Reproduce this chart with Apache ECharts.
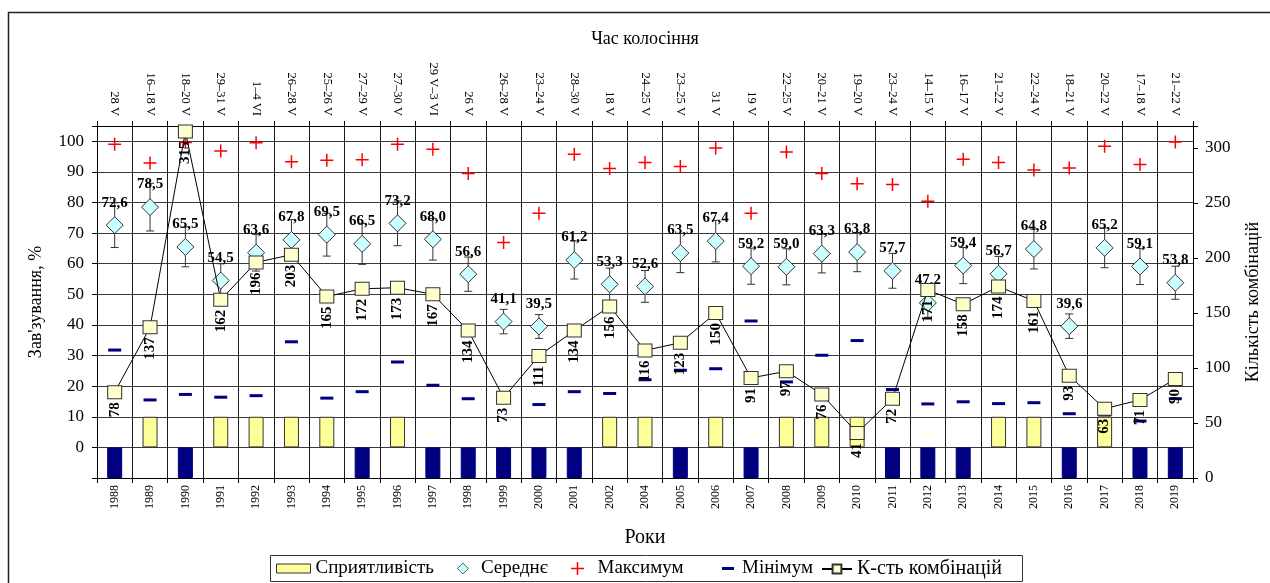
<!DOCTYPE html>
<html>
<head>
<meta charset="utf-8">
<script src="https://cdn.jsdelivr.net/npm/echarts@6/dist/echarts.min.js"></script>
<style>
html,body{margin:0;padding:0;background:#fff;}
#chart{width:1270px;height:583px;}
</style>
</head>
<body>
<div id="chart"></div>
<script>
const years = ['1988','1989','1990','1991','1992','1993','1994','1995','1996','1997','1998','1999','2000','2001','2002','2004','2005','2006','2007','2008','2009','2010','2011','2012','2013','2014','2015','2016','2017','2018','2019'];
const headingDates = ['28 V','16–18 V','18–20 V','29–31 V','1–4 VI','26–28 V','25–26 V','27–29 V','27–30 V','29 V–3 VI','26 V','26–28 V','23–24 V','28–30 V','18 V','24–25 V','23–25 V','31 V','19 V','22–25 V','20–21 V','19–20 V','23–24 V','14–15 V','16–17 V','21–22 V','22–24 V','18–21 V','20–22 V','17–18 V','21–22 V'];
const favorability = [-10,10,-10,10,10,10,10,-10,10,-10,-10,-10,-10,-10,10,10,-10,10,-10,10,10,10,-10,-10,-10,10,10,-10,10,-10,-10];
const meanValues = [72.6,78.5,65.5,54.5,63.6,67.8,69.5,66.5,73.2,68.0,56.6,41.1,39.5,61.2,53.3,52.6,63.5,67.4,59.2,59.0,63.3,63.8,57.7,47.2,59.4,56.7,64.8,39.6,65.2,59.1,53.8];
const meanErrors = [7.3,7.8,6.5,5.5,6.0,6.6,7.0,6.7,7.3,6.8,5.6,4.0,3.9,6.2,5.3,5.2,6.4,6.8,5.9,5.9,6.3,6.4,5.7,4.7,5.9,5.7,6.5,4.0,6.5,5.9,5.4];
const maxValues = [99.0,92.9,99.6,96.8,99.5,93.3,93.8,94.0,99.0,97.4,89.5,66.9,76.5,95.8,91.1,93.1,91.8,97.8,76.5,96.5,89.5,86.1,85.9,80.4,94.1,93.1,90.6,91.3,98.4,92.4,99.8];
const minValues = [31.8,15.5,17.3,16.4,16.9,34.5,16.1,18.2,27.9,20.3,15.9,16.5,14.0,18.2,17.6,22.1,25.2,25.7,41.3,21.4,30.1,34.9,18.9,14.2,14.9,14.3,14.6,11.0,10.6,8.6,15.9];
const combCounts = [78,137,315,162,196,203,165,172,173,167,134,73,111,134,156,116,123,150,91,97,76,41,72,171,158,174,161,93,63,71,90];

const FONT = 'Liberation Serif';
const YELLOW = '#FFFF99';
const NAVY = '#000080';
const PLUS = 'path://M5.75,0H7.25V5.75H13V7.25H7.25V13H5.75V7.25H0V5.75H5.75Z';
const DIAMOND = 'path://M6,0L12,6L6,12L0,6Z';
const DASH = 'path://M0,0H12V3H0Z';

const chart = echarts.init(document.getElementById('chart'), null, {renderer:'canvas'});

const legendBase = {
  top: 559, padding: 0, orient: 'horizontal', selectedMode: false,
  textStyle: {fontFamily: FONT, fontSize: 19, color: '#000'},
  symbolKeepAspect: true
};

const option = {
  animation: false,
  backgroundColor: '#fff',
  textStyle: {fontFamily: FONT},
  grid: {left: 97, right: 77, top: 126, bottom: 105, containLabel: false},
  graphic: [
    {type: 'rect', shape: {x: 8.5, y: 12.5, width: 1300, height: 620}, style: {fill: 'none', stroke: '#222', lineWidth: 1.5}, silent: true, z: -10},
    {type: 'rect', shape: {x: 270.5, y: 555.5, width: 752, height: 26}, style: {fill: '#fff', stroke: '#333', lineWidth: 1}, silent: true, z: -5}
  ],
  legend: [
    Object.assign({}, legendBase, {left: 276, itemWidth: 34, itemHeight: 9, data: [{name: 'Сприятливість', icon: 'rect', itemStyle: {color: YELLOW, borderColor: '#333', borderWidth: 1}}]}),
    Object.assign({}, legendBase, {left: 457, itemWidth: 26, itemHeight: 11, data: [{name: 'Середнє', icon: DIAMOND, itemStyle: {color: '#CCFFFF', borderColor: '#333', borderWidth: 0.8}}]}),
    Object.assign({}, legendBase, {left: 571, itemWidth: 30, itemHeight: 13, data: [{name: 'Максимум', icon: PLUS}]}),
    Object.assign({}, legendBase, {left: 722, itemWidth: 18, itemHeight: 3, data: [{name: 'Мінімум', icon: DASH}]}),
    Object.assign({}, legendBase, {left: 821, itemWidth: 30, itemHeight: 11, textStyle: {fontFamily: FONT, fontSize: 20, color: '#000'}, data: [{name: 'К-сть комбінацій'}]})
  ],
  xAxis: [
    {
      type: 'category', data: years, position: 'bottom', boundaryGap: true,
      axisLine: {onZero: false, lineStyle: {color: '#000', width: 1}},
      axisTick: {show: true, inside: false, length: 5, interval: 0, lineStyle: {color: '#000'}},
      axisLabel: {rotate: 90, interval: 0, fontSize: 12, color: '#000', fontFamily: FONT, margin: 7},
      splitLine: {show: true, interval: 0, lineStyle: {color: '#1a1a1a', width: 1}},
      name: 'Роки', nameLocation: 'middle', nameGap: 50,
      nameTextStyle: {fontSize: 20, color: '#000', fontFamily: FONT}
    },
    {
      type: 'category', data: headingDates, position: 'top', boundaryGap: true,
      axisLine: {onZero: false, lineStyle: {color: '#000', width: 1}},
      axisTick: {show: true, inside: false, length: 5, interval: 0, lineStyle: {color: '#000'}},
      axisLabel: {rotate: 90, interval: 0, fontSize: 12.5, color: '#000', fontFamily: FONT, margin: 10},
      splitLine: {show: false},
      name: 'Час колосіння', nameLocation: 'middle', nameGap: 78,
      nameTextStyle: {fontSize: 18, color: '#000', fontFamily: FONT}
    }
  ],
  yAxis: [
    {
      type: 'value', position: 'left', min: -10, max: 105, interval: 10,
      axisLine: {show: true, lineStyle: {color: '#000'}},
      axisTick: {show: true, length: 5, lineStyle: {color: '#000'}},
      axisLabel: {fontSize: 17, color: '#000', fontFamily: FONT, margin: 13,
        formatter: v => (v < 0 || v > 100) ? '' : String(v)},
      splitLine: {show: true, lineStyle: {color: '#3a3a3a', width: 1}},
      name: "Зав'зування, %", nameLocation: 'middle', nameGap: 52, nameRotate: 90,
      nameTextStyle: {fontSize: 18, color: '#000', fontFamily: FONT}
    },
    {
      type: 'value', position: 'right', min: 0, max: 320, interval: 50,
      axisLine: {show: true, lineStyle: {color: '#000'}},
      axisTick: {show: true, length: 5, lineStyle: {color: '#000'}},
      axisLabel: {fontSize: 17, color: '#000', fontFamily: FONT, margin: 12,
        formatter: v => v > 300 ? '' : String(v)},
      splitLine: {show: false},
      name: 'Кількість комбінацій', nameLocation: 'middle', nameGap: 51, nameRotate: 90,
      nameTextStyle: {fontSize: 18, color: '#000', fontFamily: FONT}
    }
  ],
  series: [
    {
      name: 'Сприятливість', type: 'bar', xAxisIndex: 0, yAxisIndex: 0, barWidth: 15, z: 2,
      itemStyle: {color: YELLOW, borderColor: '#333', borderWidth: 1},
      data: favorability.map(v => v < 0 ? {value: v, itemStyle: {color: NAVY, borderColor: NAVY}} : v)
    },
    {
      name: 'Похибка', type: 'custom', xAxisIndex: 0, yAxisIndex: 0, z: 3, silent: true,
      encode: {x: 0, y: [1, 2]},
      data: meanValues.map((m, i) => [i, m + meanErrors[i], m - meanErrors[i]]),
      renderItem: function (params, api) {
        const hi = api.coord([api.value(0), api.value(1)]);
        const lo = api.coord([api.value(0), api.value(2)]);
        const w = 4;
        const st = {stroke: '#333', lineWidth: 1};
        return {type: 'group', children: [
          {type: 'line', shape: {x1: hi[0], y1: hi[1], x2: lo[0], y2: lo[1]}, style: st},
          {type: 'line', shape: {x1: hi[0] - w, y1: hi[1], x2: hi[0] + w, y2: hi[1]}, style: st},
          {type: 'line', shape: {x1: lo[0] - w, y1: lo[1], x2: lo[0] + w, y2: lo[1]}, style: st}
        ]};
      }
    },
    {
      name: 'Середнє', type: 'scatter', xAxisIndex: 0, yAxisIndex: 0, z: 4,
      symbol: 'diamond', symbolSize: [17, 17],
      itemStyle: {color: '#CCFFFF', borderColor: '#333', borderWidth: 1, opacity: 1},
      label: {show: true, position: 'top', distance: 6, fontFamily: FONT, fontSize: 15, fontWeight: 'bold', color: '#000',
        formatter: p => p.value.toFixed(1).replace('.', ',')},
      data: meanValues
    },
    {
      name: 'Максимум', type: 'scatter', xAxisIndex: 0, yAxisIndex: 0, z: 4,
      symbol: PLUS, symbolSize: 13, symbolKeepAspect: true,
      itemStyle: {color: '#FF0000', opacity: 1},
      data: maxValues
    },
    {
      name: 'Мінімум', type: 'scatter', xAxisIndex: 0, yAxisIndex: 0, z: 4,
      symbol: 'rect', symbolSize: [13, 3],
      itemStyle: {color: NAVY, opacity: 1},
      data: minValues
    },
    {
      name: 'К-сть комбінацій', type: 'line', xAxisIndex: 0, yAxisIndex: 1, z: 5,
      symbol: 'rect', symbolSize: [14, 13], showAllSymbol: true,
      lineStyle: {color: '#000', width: 1},
      itemStyle: {color: '#FFFFCC', borderColor: '#333', borderWidth: 1},
      label: {show: true, position: 'bottom', distance: 3, rotate: 90, align: 'right', verticalAlign: 'middle',
        fontFamily: FONT, fontSize: 15, fontWeight: 'bold', color: '#000'},
      data: combCounts
    }
  ]
};
chart.setOption(option);
</script>
</body>
</html>
